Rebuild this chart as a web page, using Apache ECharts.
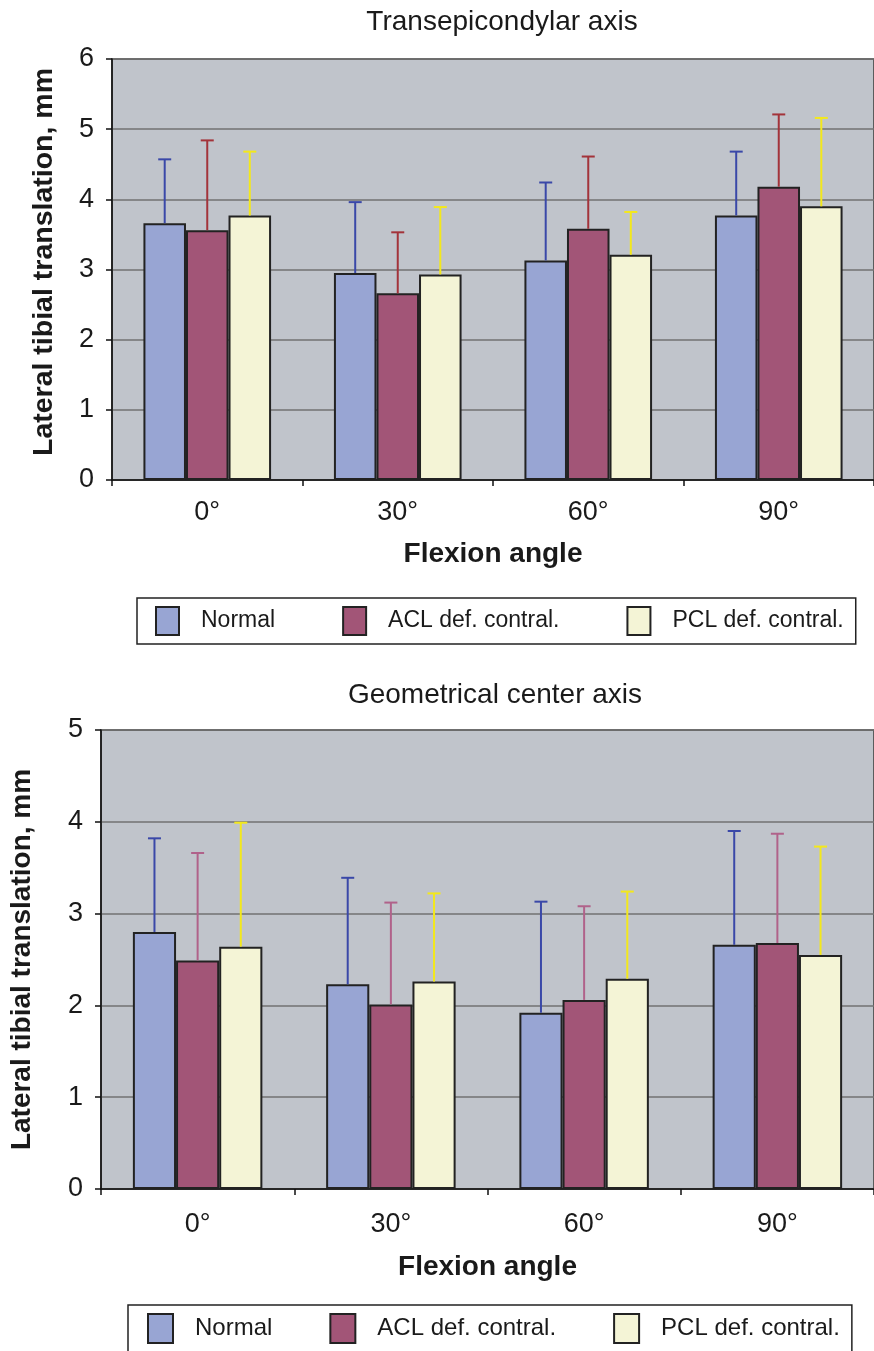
<!DOCTYPE html>
<html>
<head>
<meta charset="utf-8">
<script src="https://cdn.jsdelivr.net/npm/echarts@6/dist/echarts.min.js"></script>
<style>
html,body{margin:0;padding:0;background:#fff;}
#chart{width:874px;height:1351px;}
</style>
</head>
<body>
<div id="chart"></div>
<script>
// ---- data ----
const categories = ['0°', '30°', '60°', '90°'];
const seriesNames = ['Normal', 'ACL def. contral.', 'PCL def. contral.'];
const yTicksTop = [0, 1, 2, 3, 4, 5, 6];
const yTicksBottom = [0, 1, 2, 3, 4, 5];

// Transepicondylar axis
const topNormal = [3.66, 2.95, 3.13, 3.77];
const topNormalSD = [0.91, 1.01, 1.11, 0.91];
const topACL = [3.56, 2.66, 3.58, 4.18];
const topACLSD = [1.28, 0.87, 1.03, 1.03];
const topPCL = [3.77, 2.93, 3.21, 3.90];
const topPCLSD = [0.91, 0.96, 0.61, 1.26];

// Geometrical center axis
const botNormal = [2.80, 2.23, 1.92, 2.66];
const botNormalSD = [1.02, 1.16, 1.21, 1.24];
const botACL = [2.49, 2.01, 2.06, 2.68];
const botACLSD = [1.17, 1.11, 1.02, 1.19];
const botPCL = [2.64, 2.26, 2.29, 2.55];
const botPCLSD = [1.35, 0.96, 0.95, 1.18];

// ---- styles ----
const FONT = "'Liberation Sans', Arial, Helvetica, sans-serif";
const TXT = '#1a1a1a';
const barColors = ['#98a5d3', '#a25577', '#f4f4d6'];
const errColorsTop = ['#3a48a8', '#a3333a', '#f3e81c'];
const errColorsBot = ['#3a48a8', '#b0628a', '#f3e81c'];
const GAP = 0.33;

function errRender(idx, color) {
  return function (params, api) {
    const x = api.value(0), v = api.value(1), e = api.value(2);
    const W = api.size([1, 0])[0];
    const bw = W * (1 - GAP) / 3;
    const p0 = api.coord([x, v]);
    const p1 = api.coord([x, v + e]);
    const cx = p0[0] + (idx - 1) * bw;
    const cap = 13;
    return {
      type: 'group',
      children: [
        { type: 'line', shape: { x1: cx, y1: p0[1], x2: cx, y2: p1[1] }, style: { stroke: color, lineWidth: 2 } },
        { type: 'line', shape: { x1: cx - cap / 2, y1: p1[1], x2: cx + cap / 2, y2: p1[1] }, style: { stroke: color, lineWidth: 2 } }
      ]
    };
  };
}

function barSeries(name, data, idx, axisIdx) {
  return {
    type: 'bar', name: name, data: data,
    xAxisIndex: axisIdx, yAxisIndex: axisIdx,
    barGap: '0%', barCategoryGap: (GAP * 100) + '%',
    itemStyle: { color: barColors[idx], borderColor: '#222', borderWidth: 2 },
    emphasis: { disabled: true }, z: 2
  };
}
function errSeries(name, vals, sds, idx, axisIdx, colors) {
  return {
    type: 'custom', name: name + ' SD',
    xAxisIndex: axisIdx, yAxisIndex: axisIdx,
    renderItem: errRender(idx, colors[idx]),
    data: categories.map((c, i) => [i, vals[i], sds[i]]),
    encode: { x: 0, y: 1 }, z: 3, silent: true
  };
}

function xAxisCfg(gridIndex, labelMargin, nameGap) {
  return {
    type: 'category', gridIndex: gridIndex, data: categories,
    boundaryGap: true,
    axisLine: { show: true, lineStyle: { color: '#111', width: 1.5 } },
    axisTick: { show: true, alignWithLabel: false, length: 6, lineStyle: { color: '#111', width: 1.5 } },
    axisLabel: { margin: labelMargin, fontSize: 27, color: TXT, fontFamily: FONT },
    name: 'Flexion angle', nameLocation: 'middle', nameGap: nameGap,
    nameTextStyle: { fontSize: 28, fontWeight: 'bold', color: TXT, fontFamily: FONT },
    splitLine: { show: false }
  };
}
function yAxisCfg(gridIndex, ticks, nameGap, nameSize, namePad) {
  return {
    type: 'value', gridIndex: gridIndex,
    min: ticks[0], max: ticks[ticks.length - 1], interval: 1,
    axisLine: { show: true, lineStyle: { color: '#111', width: 1.5 } },
    axisTick: { show: true, length: 6, lineStyle: { color: '#111', width: 1.5 } },
    axisLabel: { margin: 18, fontSize: 27, color: TXT, fontFamily: FONT },
    splitLine: { show: true, lineStyle: { color: '#727272', width: 1.5 } },
    name: 'Lateral tibial translation, mm', nameLocation: 'middle', nameGap: nameGap, nameRotate: 90,
    nameTextStyle: { fontSize: nameSize, fontWeight: 'bold', color: TXT, fontFamily: FONT, padding: namePad }
  };
}
function legendCfg(left, top, iw, ih, gap, pad, fs) {
  return {
    left: left, top: top, orient: 'horizontal',
    data: seriesNames, icon: 'rect', selectedMode: false,
    itemWidth: iw, itemHeight: ih, itemGap: gap,
    padding: pad, borderColor: '#222', borderWidth: 1.5,
    textStyle: { fontSize: fs, color: TXT, fontFamily: FONT, padding: [0, 0, 0, 17] }
  };
}

const option = {
  backgroundColor: '#ffffff',
  animation: false,
  title: [
    { text: 'Transepicondylar axis', left: 497, top: 3, textAlign: 'center',
      textStyle: { fontSize: 28, fontWeight: 'normal', color: TXT, fontFamily: FONT } },
    { text: 'Geometrical center axis', left: 490, top: 676, textAlign: 'center',
      textStyle: { fontSize: 28, fontWeight: 'normal', color: TXT, fontFamily: FONT } }
  ],
  grid: [
    { left: 112, top: 59, width: 772, height: 421, show: true, backgroundColor: '#c0c4cb', borderColor: '#3a3a3a', borderWidth: 1.5 },
    { left: 101, top: 730, width: 779, height: 459, show: true, backgroundColor: '#c0c4cb', borderColor: '#3a3a3a', borderWidth: 1.5 }
  ],
  xAxis: [xAxisCfg(0, 19, 60), xAxisCfg(1, 22, 64)],
  yAxis: [yAxisCfg(0, yTicksTop, 53, 28.5, [0, 0, 0, 15]), yAxisCfg(1, yTicksBottom, 65, 28, 0)],
  legend: [
    legendCfg(137, 598, 23, 28, 67, [8, 12, 8, 18], 23),
    legendCfg(128, 1305, 25, 29, 57, [8, 12, 8, 19], 24)
  ],
  series: [
    barSeries(seriesNames[0], topNormal, 0, 0),
    barSeries(seriesNames[1], topACL, 1, 0),
    barSeries(seriesNames[2], topPCL, 2, 0),
    errSeries(seriesNames[0], topNormal, topNormalSD, 0, 0, errColorsTop),
    errSeries(seriesNames[1], topACL, topACLSD, 1, 0, errColorsTop),
    errSeries(seriesNames[2], topPCL, topPCLSD, 2, 0, errColorsTop),
    barSeries(seriesNames[0], botNormal, 0, 1),
    barSeries(seriesNames[1], botACL, 1, 1),
    barSeries(seriesNames[2], botPCL, 2, 1),
    errSeries(seriesNames[0], botNormal, botNormalSD, 0, 1, errColorsBot),
    errSeries(seriesNames[1], botACL, botACLSD, 1, 1, errColorsBot),
    errSeries(seriesNames[2], botPCL, botPCLSD, 2, 1, errColorsBot)
  ]
};

const chart = echarts.init(document.getElementById('chart'), null, { renderer: 'canvas' });
chart.setOption(option);
</script>
</body>
</html>
